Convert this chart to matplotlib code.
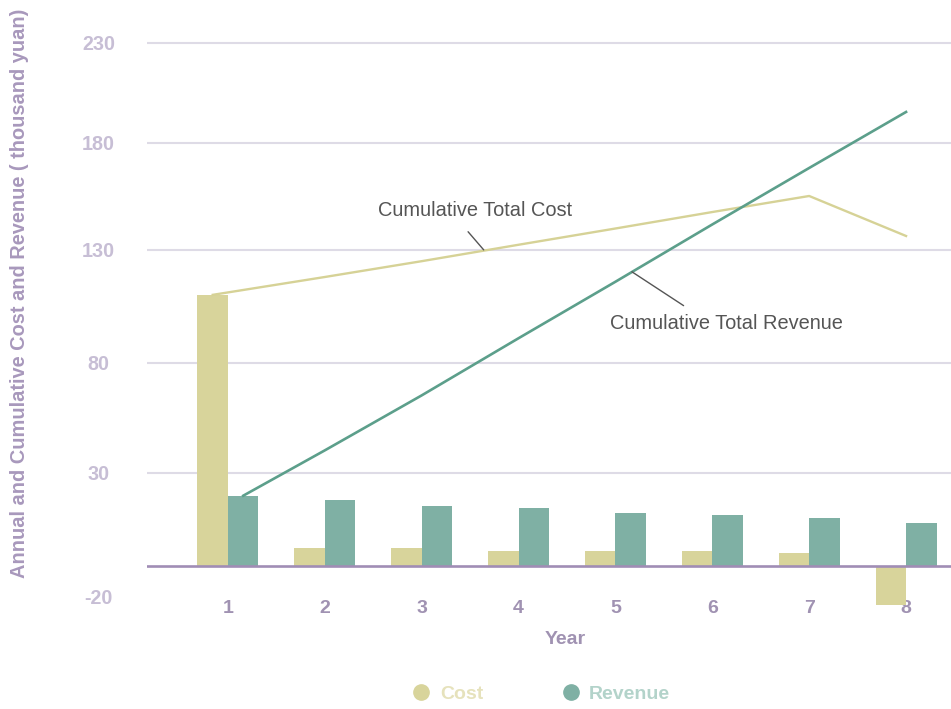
import numpy as np
import matplotlib
matplotlib.use("Agg")
import matplotlib.pyplot as plt
from matplotlib.lines import Line2D

plt.rcParams['font.family'] = ['Liberation Sans', 'DejaVu Sans']

years = np.arange(1, 9)
annual_cost = [110.1, 5.8, 5.8, 4.8, 4.8, 4.8, 4.2, -25.2]
annual_revenue = [22.6, 21.3, 19.4, 18.7, 17.1, 16.5, 15.5, 13.9]
cum_cost = [110.1, 118.0, 125.0, 132.4, 140.0, 147.7, 155.2, 136.5]
cum_revenue = [22.6, 40.2, 65.2, 90.9, 115.9, 141.9, 168.3, 195.5]
y_ticks = [-20, 30, 80, 130, 180, 230]

# the value axis of the reference is not evenly spaced: piecewise scale
knot_vals = np.array([-60, -20, 0, 30, 80, 130, 180, 230, 280], dtype=float)
knot_pos = -np.array([659, 597, 566, 473, 363, 250, 143, 43, -57], dtype=float)

def fwd(v):
    return np.interp(v, knot_vals, knot_pos)

def inv(u):
    return np.interp(u, knot_pos, knot_vals)

c_cost = '#d8d49b'
c_rev = '#7fb0a4'
c_cost_line = '#d6d296'
c_rev_line = '#5c9f8b'

fig = plt.figure(figsize=(9.51, 7.09), dpi=100)
ax = fig.add_axes([147 / 951, 1 - 606 / 709, 1 - 147 / 951, (606 - 38) / 709])
ax.set_yscale('function', functions=(fwd, inv))

w = 0.315
ax.bar(years - w / 2, annual_cost, width=w, color=c_cost, zorder=2)
ax.bar(years + w / 2, annual_revenue, width=w, color=c_rev, zorder=2)

x_cost = years.astype(float)
x_cost[0] -= w / 2
x_rev = years.astype(float)
x_rev[0] += w / 2
ax.plot(x_cost, cum_cost, color=c_cost_line, lw=1.7, zorder=3)
ax.plot(x_rev, cum_revenue, color=c_rev_line, lw=1.9, zorder=3)

ax.axhline(0, color='#a08db5', lw=1.9, zorder=4)

ax.set_xlim(0.164, 8.464)
ax.set_ylim(-26, 232.5)
ax.set_yticks(y_ticks)
ax.set_yticklabels([str(t) for t in y_ticks])
ax.set_xticks(years)
ax.set_xticklabels([str(y) for y in years])
ax.grid(axis='y', color='#dedbe6', lw=1.5, zorder=0)
ax.get_ygridlines()[0].set_visible(False)
ax.set_axisbelow(True)
for s in ax.spines.values():
    s.set_visible(False)
ax.tick_params(axis='y', length=0, pad=35, labelsize=14.2, labelcolor='#c7bed5')
ax.tick_params(axis='x', length=0, pad=-4, labelsize=14, labelcolor='#a092b2')
for t in ax.get_yticklabels():
    t.set_fontweight('bold')
    t.set_horizontalalignment('center')
for t in ax.get_xticklabels():
    t.set_fontweight('bold')

ax.annotate('Cumulative Total Cost', xy=(3.64, 130), xytext=(475 / 951, 1 - 210 / 709),
            textcoords='figure fraction', ha='center', va='center', fontsize=14.4, color='#555555',
            arrowprops=dict(arrowstyle='-', color='#555555', lw=1, shrinkA=9, shrinkB=0, relpos=(0.41, 0)))
ax.annotate('Cumulative Total Revenue', xy=(5.17, 120.3), xytext=(726 / 951, 1 - 324 / 709),
            textcoords='figure fraction', ha='center', va='center', fontsize=14.4, color='#555555',
            arrowprops=dict(arrowstyle='-', color='#555555', lw=1, shrinkA=8, shrinkB=0, relpos=(0.376, 1)))

fig.text(20 / 951, 1 - 293 / 709, 'Annual and Cumulative Cost and Revenue ( thousand yuan)',
         rotation=90, ha='center', va='center', fontsize=14.4, fontweight='bold', color='#a898bc')
fig.text(565 / 951, 1 - 640 / 709, 'Year', ha='center', va='center', fontsize=14,
         fontweight='bold', color='#a092b2')

handles = [Line2D([], [], ls='none', marker='o', markersize=11, color=c_cost),
           Line2D([], [], ls='none', marker='o', markersize=11, color=c_rev)]
leg = fig.legend(handles, ['Cost', 'Revenue'], loc='center', bbox_to_anchor=(541 / 951, 1 - 694 / 709),
                 ncol=2, frameon=False, handlelength=1.0, handletextpad=0.45, columnspacing=4.0,
                 prop={'size': 14, 'weight': 'bold'})
for txt, col in zip(leg.get_texts(), ['#e6e2bc', '#b3d3ca']):
    txt.set_color(col)

fig.savefig('out.png', dpi=100)
